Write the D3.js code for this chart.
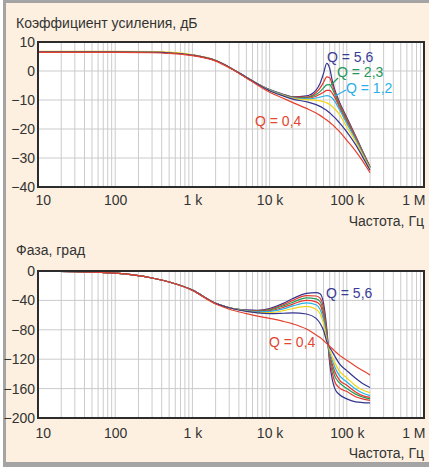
<!DOCTYPE html>
<html><head><meta charset="utf-8">
<script src="https://cdn.jsdelivr.net/npm/d3@7"></script>
<style>
body{margin:0;background:#fff}
svg{display:block}
text{font-family:"Liberation Sans",Arial,Helvetica,sans-serif}
</style>
</head><body>
<svg id="c" width="429" height="467"></svg>
<script>
// ---------- data ----------
const freqs = [10, 30, 100, 300, 500, 1000, 2000, 3000, 5000, 7000, 10000, 15000, 20000,
  30000, 40000, 45000, 50000, 55000, 60000, 65000, 70000, 80000, 100000, 130000, 160000, 200000];

const qNames = ["5,6", "3,6", "2,3", "1,7", "1,2", "0,9", "0,6", "0,4"];

// gain, dB
const gainQ56 = [6.6,6.6,6.6,6.5,6.3,5.5,3.6,1.3,-2.2,-4.5,-6.4,-8.0,-8.9,-8.6,-6.6,-4.3,-0.8,2.6,0.9,-3.5,-6.5,-10.6,-16.0,-22.4,-27.6,-33.0];
const gainQ36 = [6.6,6.6,6.6,6.5,6.3,5.5,3.6,1.3,-2.2,-4.5,-6.5,-8.1,-9.0,-9.0,-7.4,-5.9,-3.9,-2.0,-2.3,-4.8,-7.3,-11.1,-16.4,-22.6,-27.8,-33.1];
const gainQ23 = [6.6,6.6,6.6,6.5,6.3,5.5,3.6,1.3,-2.2,-4.5,-6.5,-8.2,-9.1,-9.2,-8.1,-7.1,-5.8,-4.8,-4.7,-6.2,-8.1,-11.7,-16.9,-22.9,-28.0,-33.2];
const gainQ17 = [6.6,6.6,6.6,6.5,6.3,5.5,3.6,1.3,-2.2,-4.5,-6.6,-8.3,-9.2,-9.4,-8.7,-8.0,-7.3,-6.7,-6.7,-7.7,-9.1,-12.4,-17.4,-23.2,-28.2,-33.3];
const gainQ12 = [6.6,6.6,6.6,6.5,6.3,5.5,3.6,1.3,-2.2,-4.5,-6.6,-8.3,-9.3,-9.6,-9.3,-9.0,-8.7,-8.5,-8.7,-9.4,-10.5,-13.2,-18.1,-23.6,-28.5,-33.5];
const gainQ09 = [6.8,6.8,6.8,6.7,6.5,5.6,3.7,1.3,-2.2,-4.5,-6.7,-8.4,-9.4,-9.9,-10.1,-10.3,-10.6,-11.0,-11.5,-12.3,-13.1,-14.9,-19.3,-24.3,-29.0,-33.8];
const gainQ06 = [6.6,6.6,6.6,6.5,6.3,5.5,3.6,1.3,-2.2,-4.5,-6.8,-8.6,-9.7,-10.6,-11.6,-12.2,-12.9,-13.6,-14.4,-15.3,-16.1,-17.8,-21.0,-25.4,-29.6,-34.2];
const gainQ04 = [6.4,6.4,6.4,6.3,6.1,5.3,3.4,1.1,-2.4,-4.9,-7.3,-9.4,-10.9,-12.9,-14.5,-15.3,-16.1,-16.9,-17.7,-18.5,-19.3,-20.8,-23.9,-27.6,-31.0,-35.1];

// phase, degrees
const phaseQ56 = [-0.3,-1,-3,-9.5,-15,-26,-44,-50,-53,-53.5,-51,-44,-37.5,-30.5,-29.5,-31,-44,-78,-125,-148,-160,-168,-174,-178,-179,-179.5];
const phaseQ36 = [-0.3,-1,-3,-9.5,-15,-26,-44,-50,-53.5,-54,-52,-46,-40,-33.5,-34,-37,-51,-83,-120,-139,-151,-159,-164,-171,-174,-176];
const phaseQ23 = [-0.3,-1,-3,-9.5,-15,-26,-44,-50,-53.5,-54.5,-53,-47.5,-42.5,-36.5,-38,-41.5,-57,-87,-116,-132,-143,-152,-160,-167.5,-171.5,-174];
const phaseQ17 = [-0.3,-1,-3,-9.5,-15,-26,-44,-50,-54,-55,-54,-49.5,-45,-40,-42,-46,-62,-89.5,-113,-127,-137,-148,-155.5,-164.5,-169.5,-172];
const phaseQ12 = [-0.3,-1,-3,-9.5,-15,-26,-44,-50,-54,-55.5,-55,-51.5,-47.5,-43.5,-46,-52,-66,-92,-110,-122,-131,-142,-151,-160.5,-166,-169.5];
const phaseQ09 = [-0.3,-1,-3,-9.5,-15,-26,-44,-50,-54.5,-56.5,-56.5,-54,-51,-48,-52,-58,-72,-94,-107,-117,-125,-136,-145.5,-156,-162,-165.5];
const phaseQ06 = [-0.3,-1,-3,-9.5,-15,-26,-44,-50,-55,-57,-58,-57.5,-57,-58.5,-64.5,-71,-81,-96,-104,-110,-116,-126,-135.5,-146,-153,-158.5];
const phaseQ04 = [-0.3,-1,-3,-9.5,-15,-26.5,-45,-52,-58,-61.5,-64.5,-68.5,-72,-79,-87,-90.5,-94.5,-98.8,-102.3,-105.8,-109,-114.5,-121.5,-129.5,-135.5,-141.5];

const gainSeries = [gainQ56, gainQ36, gainQ23, gainQ17, gainQ12, gainQ09, gainQ06, gainQ04];
const phaseSeries = [phaseQ56, phaseQ36, phaseQ23, phaseQ17, phaseQ12, phaseQ09, phaseQ06, phaseQ04];

const xTickValues = [10, 100, 1000, 10000, 100000, 1000000];
const xTickLabels = ["10", "100", "1 k", "10 k", "100 k", "1 M"];
const gainTicks = [10, 0, -10, -20, -30, -40];
const phaseTicks = [0, -40, -80, -120, -160, -200];

// ---------- styles ----------
const curveColors = ["#34358f", "#e6352b", "#1f9c58", "#e6352b", "#25b3e6", "#f2d417", "#34358f", "#e5412f"];
const textColor = "#333";
const gridColor = "#cbcbcb";

const svg = d3.select("#c");
svg.append("rect").attr("x", 0).attr("y", 0).attr("width", 429).attr("height", 467).attr("fill", "#fff");
svg.append("rect").attr("x", 3).attr("y", 0).attr("width", 426).attr("height", 467).attr("fill", "#a4a4a4");
svg.append("rect").attr("x", 6).attr("y", 3).attr("width", 423).attr("height", 459).attr("fill", "#fdf0e0");

const x = d3.scaleLog().domain([10, 1e6]).range([38, 424]);
const minorTicks = [];
for (let d = 10; d < 1e6; d *= 10) for (let m = 2; m <= 9; m++) minorTicks.push(d * m);

function panel(top, bottom, domain, yTicks, series, labelPad) {
  const y = d3.scaleLinear().domain(domain).range([bottom, top]);
  const g = svg.append("g");
  g.append("rect").attr("x", x.range()[0]).attr("y", top)
    .attr("width", x.range()[1] - x.range()[0]).attr("height", bottom - top).attr("fill", "#fff");
  // grid
  g.append("g").selectAll("line").data(minorTicks.concat(xTickValues)).join("line")
    .attr("x1", d => x(d)).attr("x2", d => x(d)).attr("y1", top).attr("y2", bottom)
    .attr("stroke", gridColor).attr("stroke-width", 1);
  g.append("g").selectAll("line").data(yTicks).join("line")
    .attr("x1", x.range()[0]).attr("x2", x.range()[1]).attr("y1", d => y(d)).attr("y2", d => y(d))
    .attr("stroke", gridColor).attr("stroke-width", 1);
  // curves
  const line = d3.line().x((d, i) => x(freqs[i])).y(d => y(d)).curve(d3.curveMonotoneX);
  g.append("g").selectAll("path").data(series).join("path")
    .attr("d", d => line(d)).attr("fill", "none")
    .attr("stroke", (d, i) => curveColors[i]).attr("stroke-width", 1.2);
  // frame
  g.append("rect").attr("x", x.range()[0]).attr("y", top)
    .attr("width", x.range()[1] - x.range()[0]).attr("height", bottom - top)
    .attr("fill", "none").attr("stroke", "#2c2c2c").attr("stroke-width", 2);
  // axes
  const ya = g.append("g").attr("transform", `translate(${x.range()[0]},0)`)
    .call(d3.axisLeft(y).tickValues(yTicks).tickSize(0).tickPadding(3).tickFormat(d3.format("d")));
  ya.select(".domain").remove();
  ya.selectAll("text").attr("font-size", 14).attr("fill", textColor)
    .style("font-family", '"Liberation Sans",Arial,sans-serif');
  const xa = g.append("g").attr("transform", `translate(0,${bottom})`)
    .call(d3.axisBottom(x).tickValues(xTickValues).tickSize(0).tickPadding(labelPad)
      .tickFormat((d, i) => xTickLabels[i]));
  xa.select(".domain").remove();
  xa.selectAll("text").attr("font-size", 14).attr("fill", textColor)
    .style("font-family", '"Liberation Sans",Arial,sans-serif')
    .attr("text-anchor", (d, i) => i === 0 ? "start" : (i === xTickValues.length - 1 ? "end" : "middle"))
    .attr("dx", (d, i) => i === 0 ? -3 : (i === xTickValues.length - 1 ? 1 : 0));
  return y;
}

const yG = panel(42, 187, [-40, 10], gainTicks, gainSeries, 8);
const yP = panel(271, 418, [-200, 0], phaseTicks, phaseSeries, 10);

function txt(s, px, py, color, anchor) {
  svg.append("text").attr("x", px).attr("y", py).attr("font-size", 14)
    .attr("fill", color).attr("text-anchor", anchor || "start").text(s);
}
txt("Коэффициент усиления, дБ", 16, 28, textColor);
txt("Частота, Гц", 424, 226, textColor, "end");
txt("Фаза, град", 16, 255, textColor);
txt("Частота, Гц", 424, 458, textColor, "end");

// Q labels (gain)
txt("Q = " + qNames[0], 327, 62, "#3a3c96");
txt("Q = " + qNames[2], 337, 77, "#22985a");
txt("Q = " + qNames[4], 346, 93, "#29aee6");
txt("Q = " + qNames[7], 255, 126, "#e2472f");
svg.append("line").attr("x1", 331).attr("y1", 85).attr("x2", 338).attr("y2", 78)
  .attr("stroke", "#22985a").attr("stroke-width", 1.2);
svg.append("line").attr("x1", 335).attr("y1", 96).attr("x2", 346).attr("y2", 90)
  .attr("stroke", "#29aee6").attr("stroke-width", 1.2);
// Q labels (phase)
txt("Q = " + qNames[0], 326, 298, "#3a3c96");
txt("Q = " + qNames[7], 269, 347, "#e2472f");
</script>
</body></html>
